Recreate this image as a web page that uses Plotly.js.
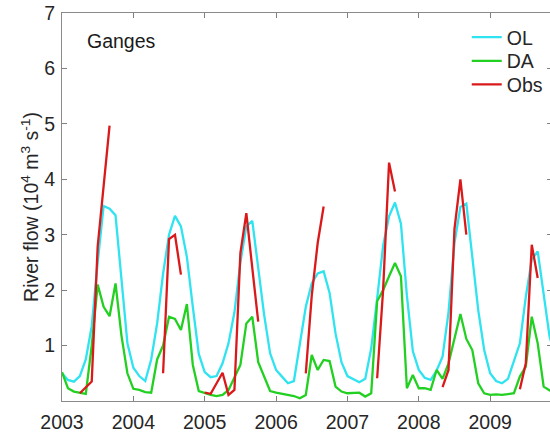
<!DOCTYPE html>
<html>
<head>
<meta charset="utf-8">
<script src="https://cdn.plot.ly/plotly-3.0.1.min.js"></script>
<style>html,body{margin:0;padding:0;overflow:hidden;background:#fff;}</style>
</head>
<body>
<div id="chart"></div>
<script>
// Monthly series, Jan 2003 .. Dec 2009 (10^4 m^3 s^-1)
const startYear = 2003;
const tickYears = [2003, 2004, 2005, 2006, 2007, 2008, 2009];
const tickLabels = ["2003", "2004", "2005", "2006", "2007", "2008", "2009"];
const yTicks = [1, 2, 3, 4, 5, 6, 7];

const OL = [
  0.50, 0.38, 0.35, 0.45, 0.75, 1.35, 2.50, 3.52, 3.47, 3.35, 2.20, 1.04,
  0.60, 0.45, 0.36, 0.75, 1.40, 2.30, 3.00, 3.34, 3.15, 2.60, 1.70, 0.85,
  0.52, 0.43, 0.45, 0.68, 1.04, 1.60, 2.50, 3.15, 3.25, 2.45, 1.55, 0.86,
  0.56, 0.44, 0.32, 0.36, 1.04, 1.70, 2.12, 2.30, 2.34, 1.95, 1.22, 0.70,
  0.45, 0.40, 0.34, 0.40, 0.95, 1.85, 2.80, 3.33, 3.58, 3.20, 1.90, 0.90,
  0.56, 0.42, 0.38, 0.55, 0.80, 1.60, 2.85, 3.50, 3.56, 2.60, 1.64, 0.92,
  0.50, 0.36, 0.32, 0.40, 0.70, 1.04, 1.88, 2.55, 2.70, 1.94, 1.16, 0.80
];

const DA = [
  0.52, 0.23, 0.17, 0.15, 0.13, 1.00, 2.10, 1.70, 1.53, 2.12, 1.18, 0.50,
  0.22, 0.20, 0.16, 0.15, 0.75, 1.00, 1.52, 1.48, 1.28, 1.75, 0.65, 0.18,
  0.14, 0.11, 0.09, 0.11, 0.20, 0.42, 0.65, 1.40, 1.52, 0.70, 0.45, 0.18,
  0.15, 0.13, 0.11, 0.09, 0.05, 0.11, 0.83, 0.56, 0.74, 0.72, 0.26, 0.17,
  0.14, 0.14, 0.15, 0.08, 0.14, 1.80, 2.00, 2.25, 2.49, 2.25, 0.23, 0.47,
  0.23, 0.23, 0.20, 0.56, 0.40, 0.68, 1.10, 1.57, 1.12, 0.92, 0.32, 0.14,
  0.11, 0.12, 0.11, 0.13, 0.14, 0.44, 0.62, 1.52, 1.04, 0.26, 0.19, 0.17
];

const Obs = [
  null, null, null, 0.14, 0.25, 0.35, 2.79, 3.90, 4.97, null, null, null,
  null, null, null, null, null, 0.50, 2.92, 3.00, 2.28, null, null, null,
  0.15, 0.13, 0.32, 0.51, 0.11, 0.20, 2.67, 3.39, 2.40, 1.43, null, null,
  null, null, null, null, null, 0.50, 1.90, 2.85, 3.51, null, null, null,
  null, null, null, null, null, 0.41, 2.00, 4.30, 3.78, null, null, null,
  null, null, null, null, 0.25, 0.56, 3.10, 4.00, 3.00, null, null, null,
  null, null, null, null, null, 0.21, 0.68, 2.82, 2.22, null, null, null
];

const months = OL.map((_, i) => startYear + i / 12);

const font = "Liberation Sans, Arial, Helvetica, sans-serif";
const txt = "#262626";
const fs = 19.5;

const traces = [
  {x: months, y: OL, name: "OL", mode: "lines", legend: "legend", line: {color: "#2fe3f0", width: 2.3}},
  {x: months, y: DA, name: "DA", mode: "lines", legend: "legend2", line: {color: "#22d022", width: 2.3}},
  {x: months, y: Obs, name: "Obs", mode: "lines", legend: "legend3", connectgaps: false, line: {color: "#da1a1a", width: 2.3}}
];

function leg(y) {
  return {x: 0.826, y: y, xanchor: "left", yanchor: "middle", bgcolor: "rgba(0,0,0,0)",
          borderwidth: 0, font: {size: fs, color: txt}};
}

const layout = {
  width: 552, height: 434,
  margin: {l: 62, r: 0, t: 13, b: 33},
  paper_bgcolor: "#fff", plot_bgcolor: "#fff",
  font: {family: font, size: fs, color: txt},
  showlegend: true,
  legend: leg(0.937),
  legend2: leg(0.876),
  legend3: leg(0.815),
  xaxis: {
    range: [2003, 2009.867], tickvals: tickYears, ticktext: tickLabels,
    ticks: "inside", ticklen: 5, tickcolor: "#808080", tickwidth: 1,
    showline: true, linecolor: "#8a8a8a", linewidth: 1, mirror: "ticks",
    showgrid: false, zeroline: false, tickfont: {size: fs, color: txt},
    ticklabelstandoff: 4
  },
  yaxis: {
    range: [0, 7], tickvals: yTicks,
    ticks: "inside", ticklen: 5, tickcolor: "#808080", tickwidth: 1,
    showline: true, linecolor: "#8a8a8a", linewidth: 1, mirror: "ticks",
    showgrid: false, zeroline: false, tickfont: {size: fs, color: txt},
    ticklabelstandoff: 2,
    title: {text: "River flow (10<sup>4</sup> m<sup>3</sup> s<sup>-1</sup>)", font: {size: fs, color: txt}, standoff: 0}
  },
  annotations: [
    {text: "Ganges", xref: "paper", yref: "paper", x: 0.046, y: 0.927, xanchor: "left", yanchor: "middle",
     showarrow: false, font: {size: fs, color: "#1a1a1a"}}
  ]
};

Plotly.newPlot("chart", traces, layout, {displayModeBar: false, staticPlot: true});
</script>
</body>
</html>
